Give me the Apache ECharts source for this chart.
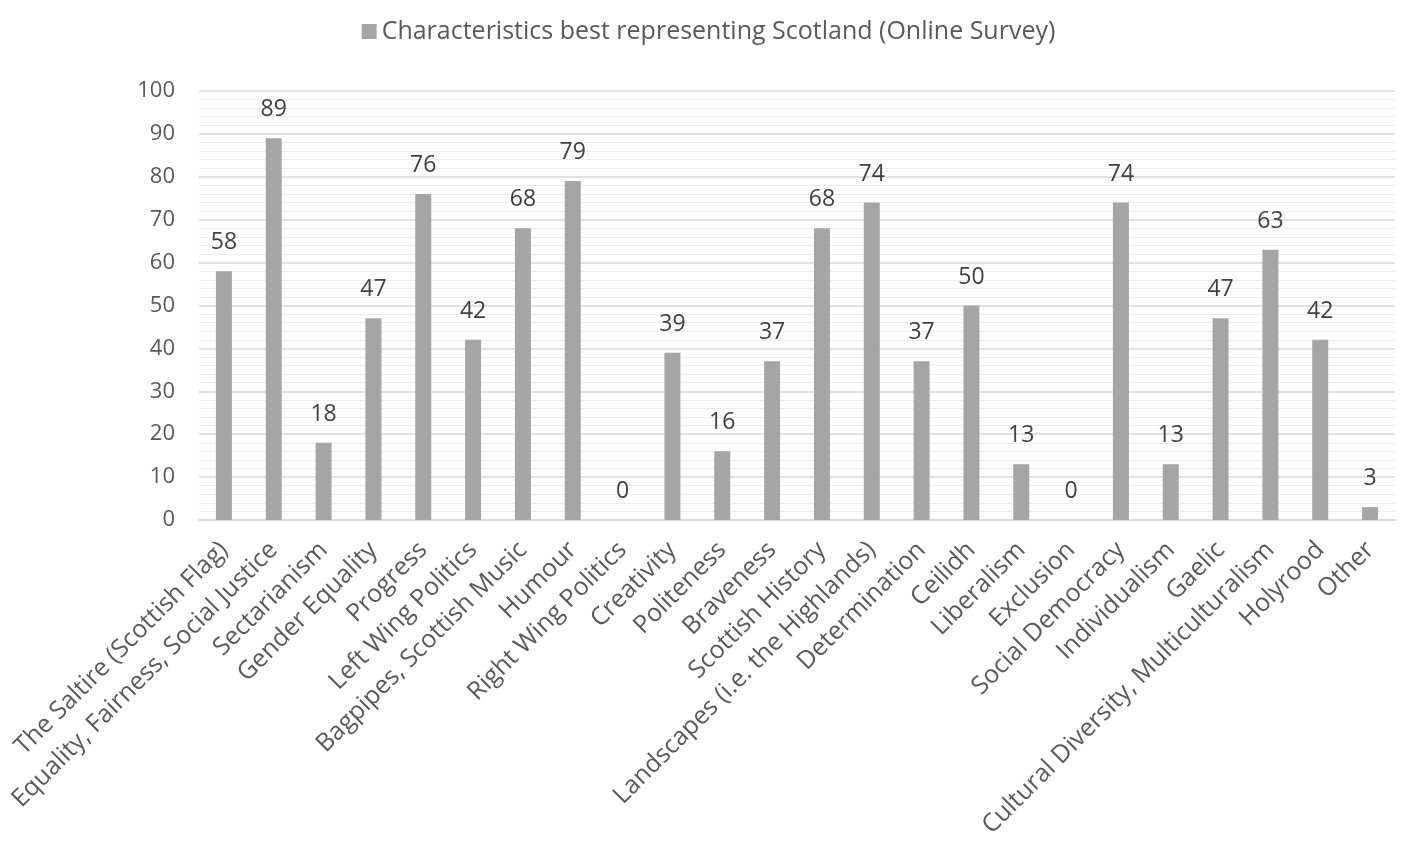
<!DOCTYPE html>
<html><head><meta charset="utf-8">
<script src="https://cdn.jsdelivr.net/npm/echarts@6/dist/echarts.min.js"></script>
<style>html,body{margin:0;padding:0;background:#fff}#c{width:1417px;height:859px}</style>
</head><body><div id="c"></div>
<script>
const categories = ["The Saltire (Scottish Flag)","Equality, Fairness, Social Justice","Sectarianism","Gender Equality","Progress","Left Wing Politics","Bagpipes, Scottish Music","Humour","Right Wing Politics","Creativity","Politeness","Braveness","Scottish History","Landscapes (i.e. the Highlands)","Determination","Ceilidh","Liberalism","Exclusion","Social Democracy","Individualism","Gaelic","Cultural Diversity, Multiculturalism","Holyrood","Other"];
const values = [58,89,18,47,76,42,68,79,0,39,16,37,68,74,37,50,13,0,74,13,47,63,42,3];
const seriesName = "Characteristics best representing Scotland (Online Survey)";
const chart = echarts.init(document.getElementById('c'));
const font = "'Open Sans', 'Noto Sans', sans-serif";
chart.setOption({
  animation:false,
  legend:{top:14,left:'center',itemWidth:15,itemHeight:15,icon:'rect',itemGap:6,
    textStyle:{fontFamily:font,fontSize:25,color:'#595959'}},
  grid:{left:199,right:22,top:91,bottom:339,containLabel:false},
  xAxis:{type:'category',data:categories,
    axisLine:{lineStyle:{color:'#d9d9d9',width:1.5}},axisTick:{show:false},
    axisLabel:{rotate:45,interval:0,fontFamily:font,fontSize:25,color:'#595959',margin:26}},
  yAxis:{type:'value',min:0,max:100,interval:10,
    axisLine:{show:false},axisTick:{show:false},
    axisLabel:{fontFamily:font,fontSize:22,color:'#595959',margin:24},
    splitLine:{lineStyle:{color:'#d9d9d9',width:1.5}},
    minorTick:{show:false,splitNumber:5},
    minorSplitLine:{show:true,lineStyle:{color:'#ececec',width:1}}},
  series:[{name:seriesName,type:'bar',data:values,barWidth:16,
    itemStyle:{color:'#a5a5a5'},
    label:{show:true,position:'top',distance:17,fontFamily:font,fontSize:23,color:'#404040'}}]
});
</script></body></html>
